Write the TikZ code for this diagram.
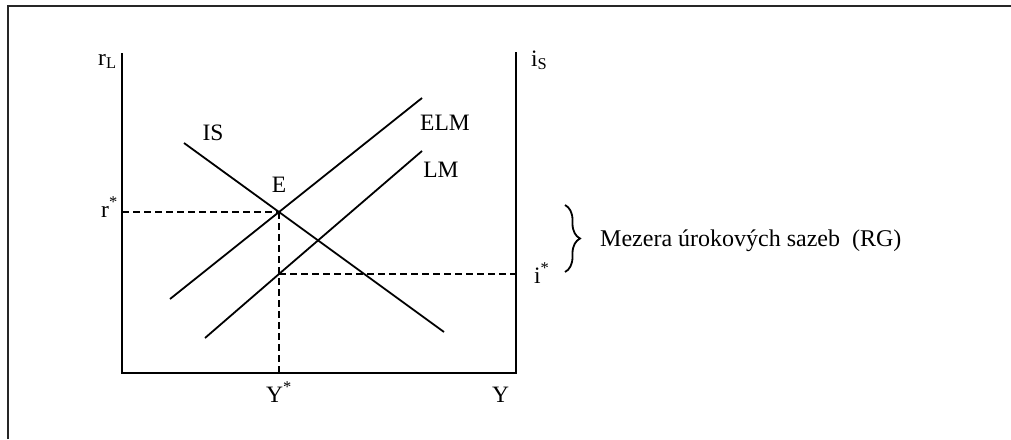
\documentclass[tikz,border=0pt]{standalone}
\usepackage{fontspec}
\setmainfont{Liberation Serif}
\usetikzlibrary{decorations.pathreplacing}
\begin{document}
\begin{tikzpicture}[x=1pt,y=-1pt,
  frameline/.style={line width=2.2pt, draw=black!85},
  axisline/.style={line width=2.2pt},
  curve/.style={line width=1.8pt},
  guide/.style={line width=2pt, dash pattern=on 7pt off 4pt},
  lbl/.style={inner sep=0pt, font=\fontsize{23.5}{27}\selectfont},
  bigl/.style={inner sep=0pt, font=\fontsize{24}{28}\selectfont},
  rgbrace/.style={line width=1.8pt, decorate, decoration={brace, amplitude=15pt}}]
\useasboundingbox (0,0) rectangle (1011,439);
% frame
\coordinate (FB) at (8,439);
\coordinate (FC) at (8,6);
\coordinate (FR) at (1011,6);
\draw[frameline] (FB) -- (FC) -- (FR);
% axes
\coordinate (Ytop) at (122,53);
\coordinate (O) at (122,373);
\coordinate (Xend) at (516,373);
\coordinate (Rtop) at (516,52);
\draw[axisline] (Ytop) -- (O) -- (Xend) -- (Rtop);
% equilibrium points
\coordinate (E) at (279,212);
\coordinate (F) at (279,274);
% curves
\coordinate (IS1) at (184,143);
\coordinate (IS2) at (444,332);
\coordinate (ELM1) at (170,299);
\coordinate (ELM2) at (422,98);
\coordinate (LM1) at (205,338);
\coordinate (LM2) at (422,151);
\draw[curve] (IS1) -- (E) -- (IS2);
\draw[curve] (ELM1) -- (E) -- (ELM2);
\draw[curve] (LM1) -- (F) -- (LM2);
\coordinate (Ebot) at (E |- O);
\coordinate (Eleft) at (E -| Ytop);
\coordinate (Fright) at (F -| Rtop);
\draw[guide] (Eleft) -- (E);
\draw[guide] (E) -- (Ebot);
\draw[guide] (F) -- (Fright);
% brace
\coordinate (B1) at (565,205);
\coordinate (B2) at (565,272);
\draw[rgbrace] (B1) -- (B2);
% labels
\node[lbl, anchor=base west] (rL) at (98,65) {r\textsubscript{L}};
\node[lbl, anchor=base west] (iS) at (531,66) {i\textsubscript{S}};
\node[lbl] (ISl) at (213,133) {IS};
\node[lbl] (El) at (279,185) {E};
\node[lbl, anchor=base west] (rstar) at (101,217) {r\textsuperscript{*}};
\node[lbl] (ELMl) at (445,123) {ELM};
\node[lbl] (LMl) at (441,170) {LM};
\node[lbl, anchor=base west] (istar) at (534,283) {i\textsuperscript{*}};
\node[lbl, anchor=base west] (Ystar) at (266,402) {Y\textsuperscript{*}};
\node[lbl, anchor=base west] (Yl) at (492,402) {Y};
\node[bigl, anchor=base west] (RG) at (600,246) {Mezera úrokových sazeb\ \ (RG)};
\end{tikzpicture}
\end{document}
